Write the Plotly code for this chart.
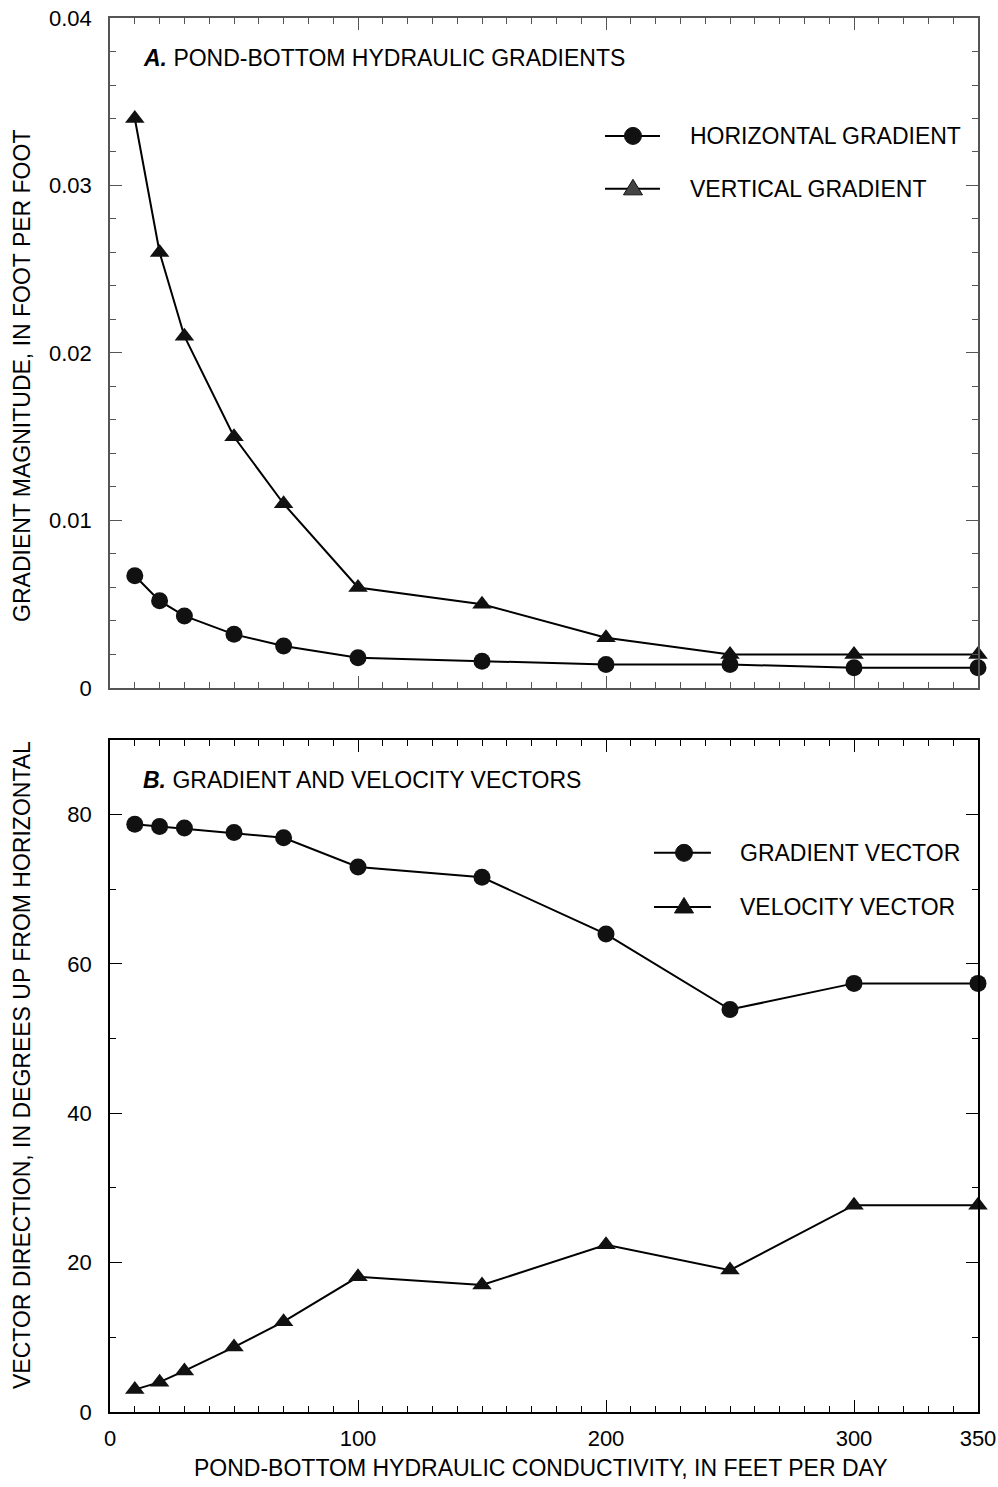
import plotly.graph_objects as go

# ---------------- data ----------------
conductivity = [10, 20, 30, 50, 70, 100, 150, 200, 250, 300, 350]

horizontal_gradient = [0.0067, 0.0052, 0.0043, 0.0032, 0.0025, 0.0018, 0.0016, 0.0014, 0.0014, 0.0012, 0.0012]
vertical_gradient = [0.034, 0.026, 0.021, 0.015, 0.011, 0.006, 0.005, 0.003, 0.002, 0.002, 0.002]

gradient_vector = [78.7, 78.4, 78.2, 77.6, 76.9, 73.0, 71.6, 64.0, 53.9, 57.4, 57.4]
velocity_vector = [3.0, 4.0, 5.5, 8.7, 12.1, 18.1, 17.0, 22.4, 19.0, 27.7, 27.7]

x_tickvals = [0, 100, 200, 300, 350]
x_ticktext = ["0", "100", "200", "300", "350"]
top_y_tickvals = [0, 0.01, 0.02, 0.03, 0.04]
top_y_ticktext = ["0", "0.01", "0.02", "0.03", "0.04"]
bottom_y_tickvals = [0, 20, 40, 60, 80]
bottom_y_ticktext = ["0", "20", "40", "60", "80"]

labels_top = ["HORIZONTAL GRADIENT", "VERTICAL GRADIENT"]
labels_bottom = ["GRADIENT VECTOR", "VELOCITY VECTOR"]

# ---------------- styling ----------------
FONT = "Liberation Sans, Arial, sans-serif"
FS = 22
FT = 23
INK = "#111111"

fig = go.Figure()

line = dict(color="black", width=2)
fig.add_trace(go.Scatter(x=conductivity, y=vertical_gradient, mode="lines+markers",
                         line=line, marker=dict(symbol="triangle-up", size=17, color=INK),
                         xaxis="x", yaxis="y", showlegend=False, cliponaxis=False))
fig.add_trace(go.Scatter(x=conductivity, y=horizontal_gradient, mode="lines+markers",
                         line=line, marker=dict(symbol="circle", size=17, color=INK),
                         xaxis="x", yaxis="y", showlegend=False, cliponaxis=False))
fig.add_trace(go.Scatter(x=conductivity, y=gradient_vector, mode="lines+markers",
                         line=line, marker=dict(symbol="circle", size=17, color=INK),
                         xaxis="x2", yaxis="y2", showlegend=False, cliponaxis=False))
fig.add_trace(go.Scatter(x=conductivity, y=velocity_vector, mode="lines+markers",
                         line=line, marker=dict(symbol="triangle-up", size=17, color=INK),
                         xaxis="x2", yaxis="y2", showlegend=False, cliponaxis=False))

def xax(color, show_labels, anchor):
    return dict(range=[0, 350], anchor=anchor, domain=[0, 1], automargin=False,
                tickvals=x_tickvals, ticktext=x_ticktext, showticklabels=show_labels,
                ticks="inside", ticklen=12, tickwidth=1.2, tickcolor=color,
                minor=dict(dtick=10, tick0=0, ticks="inside", ticklen=6, tickwidth=1.2, tickcolor=color),
                showline=True, linecolor=color, linewidth=1.5, mirror="ticks",
                showgrid=False, zeroline=False,
                tickfont=dict(family=FONT, size=FS, color="black"), ticklabelstandoff=6)

def yax(color, rng, tv, tt, dom, minor_dt, anchor):
    return dict(range=rng, anchor=anchor, domain=dom, automargin=False,
                tickvals=tv, ticktext=tt,
                ticks="inside", ticklen=12, tickwidth=1.2, tickcolor=color,
                minor=dict(dtick=minor_dt, tick0=0, ticks="inside", ticklen=6, tickwidth=1.2, tickcolor=color),
                showline=True, linecolor=color, linewidth=1.5, mirror="ticks",
                showgrid=False, zeroline=False,
                tickfont=dict(family=FONT, size=FS, color="black"), ticklabelstandoff=12)

TOPC = "#555555"
fig.update_layout(
    xaxis=xax(TOPC, False, "y"),
    yaxis=yax(TOPC, [0, 0.04], top_y_tickvals, top_y_ticktext, [0.5194, 1.0], 0.002, "x"),
    xaxis2=xax("black", True, "y2"),
    yaxis2=yax("black", [0, 90], bottom_y_tickvals, bottom_y_ticktext, [0.0, 0.4821], 10, "x2"),
)

tf = dict(family=FONT, size=FT, color="black")
annotations = [
    dict(text="<b><i>A.</i></b> POND-BOTTOM HYDRAULIC GRADIENTS", xref="x domain", yref="y domain",
         x=0.036, y=0.94, xanchor="left", yanchor="middle", showarrow=False, font=tf),
    dict(text="<b><i>B.</i></b> GRADIENT AND VELOCITY VECTORS", xref="x2 domain", yref="y2 domain",
         x=0.036, y=0.9405, xanchor="left", yanchor="middle", showarrow=False, font=tf),
    dict(text="GRADIENT MAGNITUDE, IN FOOT PER FOOT", xref="paper", yref="paper",
         x=-0.1014, y=0.7432, xanchor="center", yanchor="middle", textangle=-90, showarrow=False, font=tf),
    dict(text="VECTOR DIRECTION, IN DEGREES UP FROM HORIZONTAL", xref="paper", yref="paper",
         x=-0.1014, y=0.2489, xanchor="center", yanchor="middle", textangle=-90, showarrow=False, font=tf),
    dict(text="POND-BOTTOM HYDRAULIC CONDUCTIVITY, IN FEET PER DAY", xref="paper", yref="paper",
         x=0.4965, y=-0.0402, xanchor="center", yanchor="middle", showarrow=False, font=tf),
]

shapes = []

def legend_entry(xr, yr, x0, x1, xc, yc, xt, label, symbol, fill):
    shapes.append(dict(type="line", xref=xr, yref=yr, x0=x0, x1=x1, y0=yc, y1=yc,
                       line=dict(color="black", width=2)))
    if symbol == "circle":
        shapes.append(dict(type="circle", xref=xr, yref=yr, xsizemode="pixel", ysizemode="pixel",
                           xanchor=xc, yanchor=yc, x0=-8.5, x1=8.5, y0=-8.5, y1=8.5,
                           fillcolor=fill, line=dict(color=INK, width=1)))
    else:
        shapes.append(dict(type="path", xref=xr, yref=yr, xsizemode="pixel", ysizemode="pixel",
                           xanchor=xc, yanchor=yc, path="M -9.5,-6 L 9.5,-6 L 0,9.5 Z",
                           fillcolor=fill, line=dict(color=INK, width=1)))
    annotations.append(dict(text=label, xref=xr, yref=yr, x=xt, y=yc, xanchor="left",
                            yanchor="middle", showarrow=False, font=tf))

legend_entry("x domain", "y domain", 0.5703, 0.6336, 0.6025, 0.824, 0.6659, labels_top[0], "circle", INK)
legend_entry("x domain", "y domain", 0.5703, 0.6336, 0.6025, 0.745, 0.6659, labels_top[1], "triangle", "#444444")
legend_entry("x2 domain", "y2 domain", 0.6267, 0.6923, 0.6613, 0.832, 0.7235, labels_bottom[0], "circle", INK)
legend_entry("x2 domain", "y2 domain", 0.6267, 0.6923, 0.6613, 0.7515, 0.7235, labels_bottom[1], "triangle", INK)

fig.update_layout(
    annotations=annotations, shapes=shapes,
    width=998, height=1487,
    margin=dict(l=110, r=20, t=18, b=75),
    paper_bgcolor="white", plot_bgcolor="white",
    font=dict(family=FONT, size=FS, color="black"),
    showlegend=False,
)

fig.write_html("out.html", config={"displayModeBar": False},
               post_script="document.body.style.margin='0';")
